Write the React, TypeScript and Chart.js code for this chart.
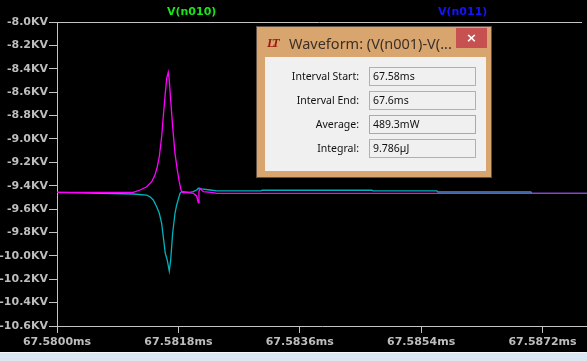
import React, { useEffect, useRef } from "react";
import { Chart, registerables } from "chart.js";

Chart.register(...registerables);

// ---- data ----
const xTickValues = [67.58, 67.5818, 67.5836, 67.5854, 67.5872];
const yTickValues = [-10.6, -10.4, -10.2, -10.0, -9.8, -9.6, -9.4, -9.2, -9.0, -8.8, -8.6, -8.4, -8.2, -8.0];
const xMin = 67.58;
const xMax = 67.58786;
const yMin = -10.6;
const yMax = -8.0;

const magentaTime = [
  67.58, 67.581131, 67.581231, 67.58133, 67.581404, 67.581453, 67.581487, 67.581517, 67.581552,
  67.581576, 67.581606, 67.581627, 67.58165, 67.581665, 67.581686, 67.581715, 67.58175, 67.581784,
  67.581813, 67.581839, 67.581864, 67.581947, 67.582021, 67.582071, 67.582095, 67.582105, 67.58212,
  67.582169, 67.582317, 67.582368, 67.587858,
];
const magentaKV = [
  -9.458, -9.458, -9.437, -9.409, -9.366, -9.309, -9.238, -9.152, -8.981,
  -8.81, -8.61, -8.482, -8.43, -8.496, -8.667, -8.895, -9.123, -9.266,
  -9.366, -9.437, -9.46, -9.46, -9.465, -9.488, -9.545, -9.451, -9.422,
  -9.451, -9.46, -9.465, -9.465,
];

const cyanTime = [
  67.58, 67.581131, 67.58133, 67.581379, 67.581428, 67.581478, 67.581517, 67.581552, 67.581576,
  67.581606, 67.581635, 67.581665, 67.581686, 67.581715, 67.58175, 67.581775, 67.581824, 67.581849,
  67.581972, 67.582021, 67.582071, 67.582095, 67.582145, 67.582269, 67.582368, 67.583025, 67.58304,
  67.584671, 67.584685, 67.585634, 67.585649, 67.587028, 67.587043, 67.587858,
];
const cyanKV = [
  -9.458, -9.471, -9.48, -9.494, -9.522, -9.58, -9.636, -9.722, -9.836,
  -9.978, -10.036, -10.13, -10.036, -9.807, -9.636, -9.565, -9.465, -9.451,
  -9.457, -9.451, -9.437, -9.422, -9.428, -9.437, -9.445, -9.445, -9.439,
  -9.439, -9.445, -9.445, -9.454, -9.454, -9.465, -9.465,
];

const traceLabels = ["V(n010)", "V(n011)"];
const infoLabels = ["Interval Start:", "Interval End:", "Average:", "Integral:"];
const infoValues = ["67.58ms", "67.6ms", "489.3mW", "9.786µJ"];
const dialogTitle = "Waveform: (V(n001)-V(...";

const AXIS = "#c4c4c4";
const TXT = "#bdbdbd";

const topLine = {
  id: "topLine",
  afterDraw(chart: any) {
    const { ctx, chartArea } = chart;
    ctx.save();
    ctx.strokeStyle = AXIS;
    ctx.lineWidth = 1;
    ctx.beginPath();
    ctx.moveTo(chartArea.left, chartArea.top + 0.5);
    ctx.lineTo(582, chartArea.top + 0.5);
    ctx.stroke();
    ctx.restore();
  },
};

export default function App() {
  const ref = useRef<HTMLCanvasElement | null>(null);

  useEffect(() => {
    if (!ref.current) return;
    const chart = new Chart(ref.current, {
      type: "line",
      data: {
        datasets: [
          {
            label: "magenta",
            data: magentaTime.map((t, i) => ({ x: t, y: magentaKV[i] })),
            borderColor: "#ff00ff",
            borderWidth: 1.3,
            pointRadius: 0,
            tension: 0,
            fill: false,
          },
          {
            label: "cyan",
            data: cyanTime.map((t, i) => ({ x: t, y: cyanKV[i] })),
            borderColor: "#00b2bb",
            borderWidth: 1.3,
            pointRadius: 0,
            tension: 0,
            fill: false,
          },
        ],
      },
      options: {
        animation: false,
        responsive: false,
        maintainAspectRatio: false,
        layout: { padding: { top: 22, left: 0, right: 0, bottom: 0 } },
        plugins: { legend: { display: false }, tooltip: { enabled: false } },
        scales: {
          x: {
            type: "linear",
            min: xMin,
            max: xMax,
            afterBuildTicks: (s: any) => {
              s.ticks = xTickValues.map((v) => ({ value: v }));
            },
            afterFit: (s: any) => {
              s.height = 26;
            },
            ticks: {
              callback: (v: any) => Number(v).toFixed(4) + "ms",
              color: TXT,
              font: { family: "DejaVu Sans", weight: "bold", size: 11 },
              maxRotation: 0,
              autoSkip: false,
              padding: 3,
            },
            grid: { drawOnChartArea: false, drawTicks: true, tickLength: 7, color: AXIS },
            border: { display: true, color: AXIS, width: 1 },
          },
          y: {
            type: "linear",
            min: yMin,
            max: yMax,
            afterBuildTicks: (s: any) => {
              s.ticks = yTickValues.map((v) => ({ value: v }));
            },
            afterFit: (s: any) => {
              s.width = 57;
            },
            ticks: {
              callback: (v: any) => Number(v).toFixed(1) + "KV",
              color: TXT,
              font: { family: "DejaVu Sans", weight: "bold", size: 11 },
              autoSkip: false,
              padding: 1,
            },
            grid: { drawOnChartArea: false, drawTicks: true, tickLength: 8, color: AXIS },
            border: { display: true, color: AXIS, width: 1 },
          },
        },
      },
      plugins: [topLine],
    } as any);
    return () => chart.destroy();
  }, []);

  const rowTops = [10, 34, 58, 82];

  return (
    <div style={{ position: "fixed", left: 0, top: 0, width: 587, height: 361, background: "#000", overflow: "hidden" }}>
      <canvas ref={ref} width={587} height={352} style={{ position: "absolute", left: 0, top: 0, width: 587, height: 352 }} />
      <div style={{ position: "absolute", left: 167, top: 4, font: "bold 11px 'DejaVu Sans'", color: "#19e619", lineHeight: "16px" }}>{traceLabels[0]}</div>
      <div style={{ position: "absolute", left: 438, top: 4, font: "bold 11px 'DejaVu Sans'", color: "#1414ff", lineHeight: "16px" }}>{traceLabels[1]}</div>
      <div style={{ position: "absolute", left: 0, top: 352, width: 587, height: 1, background: "#f4f7fb" }} />
      <div style={{ position: "absolute", left: 0, top: 353, width: 587, height: 8, background: "#dbe6f3" }} />
      {/* dialog */}
      <div style={{ position: "absolute", left: 257, top: 27, width: 234, height: 150, background: "#d9a56e", boxShadow: "0 0 0 1px #5c5046" }}>
        <div style={{ position: "absolute", left: 10, top: 8, font: "italic bold 13px 'Liberation Serif'", color: "#9a1a12", letterSpacing: "-3px", lineHeight: "16px" }}>LT</div>
        <div style={{ position: "absolute", left: 32, top: 6, font: "14.5px 'Noto Sans'", color: "#3a3028", lineHeight: "20px", whiteSpace: "nowrap" }}>{dialogTitle}</div>
        <div style={{ position: "absolute", left: 199, top: 1, width: 31, height: 20, background: "#c75050", color: "#fff", font: "bold 13px 'DejaVu Sans'", textAlign: "center", lineHeight: "20px" }}>×</div>
        <div style={{ position: "absolute", left: 8, top: 30, width: 221, height: 114, background: "#f0f0f0" }}>
          {infoLabels.map((lab, i) => (
            <React.Fragment key={lab}>
              <div style={{ position: "absolute", left: 0, top: rowTops[i], width: 94, height: 19, textAlign: "right", font: "10.5px 'Noto Sans'", color: "#111", lineHeight: "19px", whiteSpace: "nowrap" }}>{lab}</div>
              <div style={{ position: "absolute", left: 104, top: rowTops[i], width: 107, height: 19, boxSizing: "border-box", border: i === 2 ? "1px solid #7ab4ea" : "1px solid #b0b0b0", background: "#f0f0f0", font: "10.5px 'Noto Sans'", color: "#111", lineHeight: "17px", paddingLeft: 3, whiteSpace: "nowrap" }}>{infoValues[i]}</div>
            </React.Fragment>
          ))}
        </div>
      </div>
    </div>
  );
}
